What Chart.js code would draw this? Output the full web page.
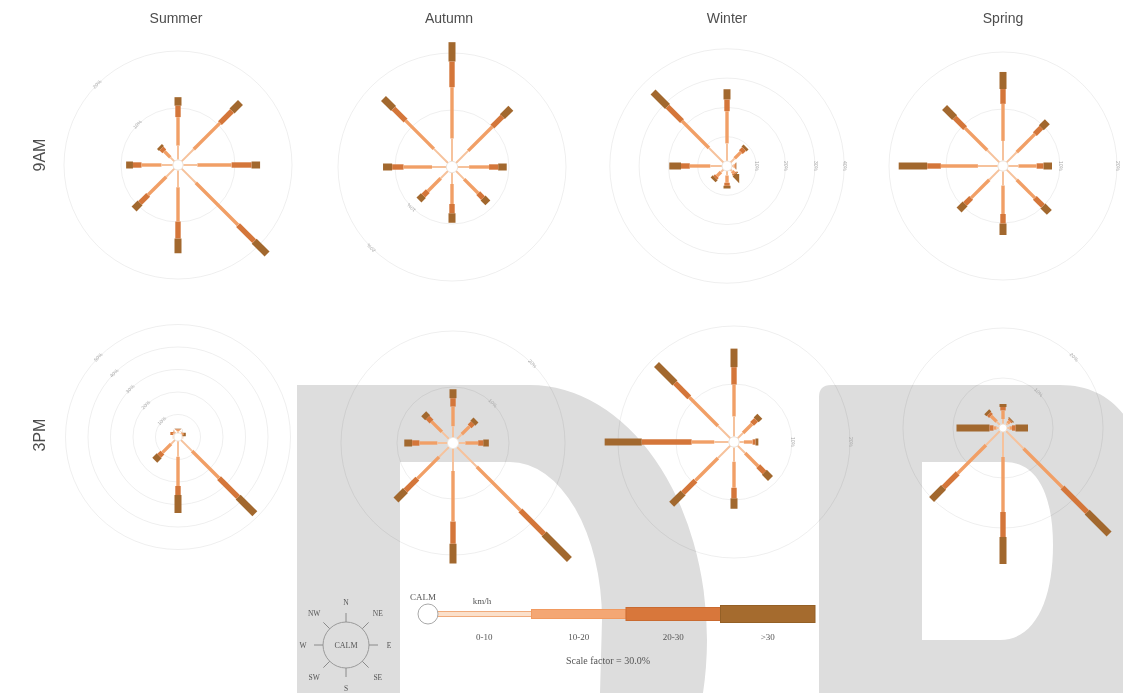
<!DOCTYPE html>
<html>
<head>
<meta charset="utf-8">
<title>Wind roses</title>
<script src="https://cdn.jsdelivr.net/npm/chart.js@4.4.1/dist/chart.umd.min.js"></script>
<style>
  html, body { margin: 0; padding: 0; background: #fff; }
  #page { position: relative; width: 1123px; height: 693px; overflow: hidden; background: #fff;
          font-family: "Liberation Sans", Arial, sans-serif; }
  #mark { position: absolute; left: 0; top: 0; }
  .rose { position: absolute; }
  .title { position: absolute; font-size: 14px; color: #4d4d4d; transform: translate(-50%, -50%); white-space: nowrap; }
  .rowlab { position: absolute; font-size: 16px; color: #4d4d4d; transform: translate(-50%, -50%) rotate(-90deg); white-space: nowrap; }
  #legend { position: absolute; left: 0; top: 0; }
</style>
</head>
<body>
<div id="page">
  <svg id="mark" width="1123" height="693">
    <path fill="#dddddd" fill-rule="evenodd"
      d="M297,385 H530 A177,255 0 0 1 707,640 A177,255 0 0 1 703,693 H297 Z
         M400,462 H510 A92,158 0 0 1 602,620 L600,693 H400 Z"/>
    <path fill="#dddddd" fill-rule="evenodd"
      d="M819,397 Q819,385 831,385 H1060 C1110,385 1140,420 1140,470 V693 H819 Z
         M922,462 H1005 C1040,462 1053,500 1053,545 C1053,600 1035,640 1000,640 H922 Z"/>
  </svg>
  <div id="roses"></div>
  <svg id="legend" width="1123" height="693"></svg>
</div>
<script>
// Wind direction sectors and speed classes (km/h)
const directions = ['N', 'NE', 'E', 'SE', 'S', 'SW', 'W', 'NW'];
const directionBearings = [0, 45, 90, 135, 180, 225, 270, 315];
const speedClasses = ['0-10', '10-20', '20-30', '>30'];
const seasons = ['Summer', 'Autumn', 'Winter', 'Spring'];
const times = ['9AM', '3PM'];

// Percentage of observations, one row per direction (N..NW), one column per speed class
const summer9am = [
  [2.5, 5.0, 2.0, 1.5], [3.0, 6.5, 3.0, 2.1], [2.5, 6.0, 3.5, 1.5], [3.5, 10.5, 4.0, 3.2],
  [3.0, 6.0, 3.0, 2.6], [2.0, 4.5, 2.0, 1.5], [2.0, 3.5, 1.5, 1.2], [1.0, 1.5, 0.7, 0.5]
];
const autumn9am = [
  [4.0, 9.0, 4.5, 3.4], [3.0, 6.0, 2.5, 2.1], [2.0, 3.5, 1.6, 1.5], [2.0, 3.5, 1.2, 1.2],
  [2.0, 3.5, 1.6, 1.7], [1.8, 3.2, 1.1, 1.1], [2.5, 5.0, 2.0, 1.6], [3.5, 7.0, 3.0, 2.5]
];
const winter9am = [
  [6.0, 11.0, 4.0, 3.5], [2.0, 3.0, 1.5, 1.0], [0.5, 0.5, 0.3, 0.2], [0.8, 1.0, 0.4, 0.3],
  [1.5, 2.5, 1.0, 1.0], [1.2, 2.0, 0.8, 1.0], [4.0, 7.0, 3.0, 4.0], [7.0, 13.0, 7.0, 7.0]
];
const spring9am = [
  [3.5, 6.5, 2.6, 3.0], [2.5, 4.5, 1.6, 1.5], [1.8, 3.2, 1.2, 1.5], [2.5, 4.5, 2.0, 1.6],
  [2.5, 5.0, 1.7, 2.0], [2.5, 4.5, 1.5, 1.5], [3.5, 6.5, 2.4, 5.0], [3.0, 5.5, 2.6, 2.5]
];
const summer3pm = [
  [0.8, 0.6, 0.3, 0.2], [0.4, 0.3, 0.1, 0.1], [0.3, 0.2, 0.0, 0.0], [7.0, 17.0, 12.0, 10.5],
  [7.0, 13.0, 4.0, 8.0], [2.5, 5.5, 2.0, 2.8], [0.3, 0.2, 0.0, 0.0], [0.7, 0.4, 0.2, 0.1]
];
const autumn3pm = [
  [2.0, 3.5, 1.5, 1.6], [1.2, 2.0, 0.8, 0.8], [1.2, 2.3, 0.9, 1.0], [5.0, 11.0, 6.0, 6.4],
  [4.0, 9.0, 4.0, 3.5], [2.5, 5.5, 3.0, 2.4], [1.8, 3.2, 1.3, 1.4], [1.8, 2.6, 1.0, 1.0]
];
const winter3pm = [
  [3.5, 5.5, 3.0, 3.2], [1.3, 2.2, 1.0, 0.9], [0.8, 1.5, 0.5, 0.5], [1.8, 3.2, 1.5, 1.5],
  [2.5, 4.5, 1.8, 1.8], [3.0, 5.5, 3.0, 2.8], [2.5, 3.9, 8.6, 6.4], [3.0, 7.0, 3.5, 4.5]
];
const spring3pm = [
  [1.0, 1.7, 0.7, 0.6], [0.5, 0.6, 0.3, 0.2], [0.5, 0.5, 0.7, 2.5], [5.0, 11.0, 7.0, 6.2],
  [5.0, 11.0, 5.0, 5.4], [4.0, 8.0, 4.0, 3.4], [0.5, 0.6, 0.8, 6.6], [1.0, 1.6, 0.6, 0.6]
];

// Calm percentage (radius of the centre circle), per season
const calm9am = [0.9, 1.0, 1.7, 0.9];
const calm3pm = [1.8, 1.0, 0.9, 0.8];

// Percentage rings drawn on each rose
const rings9am = [[10, 20], [10, 20], [10, 20, 30, 40], [10, 20]];
const rings3pm = [[10, 20, 30, 40, 50], [10, 20], [10, 20], [10, 20]];

// Legend values
const legendClasses = ['0-10', '10-20', '20-30', '>30'];
const scaleFactorText = 'Scale factor = 30.0%';

// ---- layout and styling ----
const classColors = ['#f6c29c', '#f19f66', '#d4763a', '#a2682e'];
const classWidths = [2.0, 3.4, 5.4, 7.0];
const roseLayout = {
  '9AM': [
    { cx: 178, cy: 165, ppp: 5.7,  labelAt: 315 },
    { cx: 452, cy: 167, ppp: 5.7,  labelAt: 225 },
    { cx: 727, cy: 166, ppp: 2.93, labelAt: 90 },
    { cx: 1003, cy: 166, ppp: 5.7, labelAt: 90 }
  ],
  '3PM': [
    { cx: 178, cy: 437, ppp: 2.25, labelAt: 315 },
    { cx: 453, cy: 443, ppp: 5.6,  labelAt: 45 },
    { cx: 734, cy: 442, ppp: 5.8,  labelAt: 90 },
    { cx: 1003, cy: 428, ppp: 5.0, labelAt: 45 }
  ]
};
const CANVAS = 360;

const roseGrid = {
  id: 'roseGrid',
  beforeDatasetsDraw(chart, args, opts) {
    const { ctx, scales: { x, y } } = chart;
    const cx = x.getPixelForValue(0), cy = y.getPixelForValue(0);
    ctx.save();
    ctx.strokeStyle = 'rgba(0,0,0,0.065)';
    ctx.lineWidth = 1;
    opts.rings.forEach(v => {
      const r = x.getPixelForValue(v) - cx;
      ctx.beginPath();
      ctx.arc(cx, cy, r, 0, Math.PI * 2);
      ctx.stroke();
    });
    const a = opts.labelAt * Math.PI / 180;
    ctx.fillStyle = '#a8a8a8';
    ctx.font = '5px "Liberation Sans", Arial, sans-serif';
    ctx.textAlign = 'center';
    ctx.textBaseline = 'middle';
    opts.rings.forEach(v => {
      const r = x.getPixelForValue(v) - cx;
      ctx.save();
      ctx.translate(cx + r * Math.sin(a), cy - r * Math.cos(a));
      ctx.rotate(a);
      ctx.fillText(v + '%', 0, 0);
      ctx.restore();
    });
    ctx.restore();
  },
  afterDatasetsDraw(chart, args, opts) {
    const { ctx, scales: { x, y } } = chart;
    const cx = x.getPixelForValue(0), cy = y.getPixelForValue(0);
    const r = x.getPixelForValue(opts.calm) - cx;
    ctx.save();
    ctx.beginPath();
    ctx.arc(cx, cy, r, 0, Math.PI * 2);
    ctx.fillStyle = '#ffffff';
    ctx.fill();
    ctx.strokeStyle = '#ebe2da';
    ctx.lineWidth = 1;
    ctx.stroke();
    ctx.restore();
  }
};

function roseDatasets(rows, calmPct) {
  const sets = [];
  rows.forEach((row, d) => {
    const a = directionBearings[d] * Math.PI / 180;
    let r0 = calmPct;
    row.forEach((v, k) => {
      const r1 = r0 + v;
      if (v > 0) {
        sets.push({
          label: directions[d] + ' ' + speedClasses[k],
          data: [
            { x: r0 * Math.sin(a), y: r0 * Math.cos(a) },
            { x: r1 * Math.sin(a), y: r1 * Math.cos(a) }
          ],
          showLine: true,
          borderColor: classColors[k],
          borderWidth: classWidths[k],
          borderCapStyle: 'butt',
          pointRadius: 0,
          clip: false
        });
      }
      r0 = r1;
    });
  });
  return sets;
}

function drawRose(rows, calmPct, rings, lay) {
  const holder = document.getElementById('roses');
  const cv = document.createElement('canvas');
  cv.className = 'rose';
  cv.width = CANVAS; cv.height = CANVAS;
  cv.style.width = CANVAS + 'px'; cv.style.height = CANVAS + 'px';
  cv.style.left = (lay.cx - CANVAS / 2) + 'px';
  cv.style.top = (lay.cy - CANVAS / 2) + 'px';
  holder.appendChild(cv);
  const ext = (CANVAS / 2) / lay.ppp;
  new Chart(cv, {
    type: 'scatter',
    data: { datasets: roseDatasets(rows, calmPct) },
    options: {
      responsive: false,
      animation: false,
      events: [],
      layout: { padding: 0 },
      scales: {
        x: { type: 'linear', min: -ext, max: ext, display: false },
        y: { type: 'linear', min: -ext, max: ext, display: false }
      },
      plugins: {
        legend: { display: false },
        tooltip: { enabled: false },
        roseGrid: { rings: rings, labelAt: lay.labelAt, calm: calmPct }
      }
    },
    plugins: [roseGrid]
  });
}

const data9am = [summer9am, autumn9am, winter9am, spring9am];
const data3pm = [summer3pm, autumn3pm, winter3pm, spring3pm];
seasons.forEach((s, i) => {
  drawRose(data9am[i], calm9am[i], rings9am[i], roseLayout['9AM'][i]);
  drawRose(data3pm[i], calm3pm[i], rings3pm[i], roseLayout['3PM'][i]);
});

// Column and row headings
const page = document.getElementById('page');
const titleX = [176, 449, 727, 1003];
seasons.forEach((s, i) => {
  const d = document.createElement('div');
  d.className = 'title';
  d.textContent = s;
  d.style.left = titleX[i] + 'px';
  d.style.top = '18px';
  page.appendChild(d);
});
const rowY = [155, 435];
times.forEach((t, i) => {
  const d = document.createElement('div');
  d.className = 'rowlab';
  d.textContent = t;
  d.style.left = '40px';
  d.style.top = rowY[i] + 'px';
  page.appendChild(d);
});

// Legend: compass key and speed-class bar
const NS = 'http://www.w3.org/2000/svg';
const lg = document.getElementById('legend');
function el(tag, attrs, text) {
  const e = document.createElementNS(NS, tag);
  for (const k in attrs) e.setAttribute(k, attrs[k]);
  if (text !== undefined) e.textContent = text;
  lg.appendChild(e);
  return e;
}
const serif = '"Liberation Serif", "Times New Roman", serif';
const kx = 346, ky = 645, kr = 23;
el('circle', { cx: kx, cy: ky, r: kr, fill: 'none', stroke: '#9a9a9a', 'stroke-width': 1 });
el('text', { x: kx, y: ky + 3, 'text-anchor': 'middle', 'font-family': serif, 'font-size': 8, fill: '#555' }, 'CALM');
directions.forEach((d, i) => {
  const a = directionBearings[i] * Math.PI / 180;
  const sx = Math.sin(a), sy = -Math.cos(a);
  el('line', { x1: kx + kr * sx, y1: ky + kr * sy, x2: kx + (kr + 9) * sx, y2: ky + (kr + 9) * sy,
               stroke: '#8a8a8a', 'stroke-width': 1 });
  const lr = (i % 2 === 0) ? kr + 20 : kr + 22;
  el('text', { x: kx + lr * sx, y: ky + lr * sy + 3, 'text-anchor': 'middle', 'font-family': serif,
               'font-size': 7.5, fill: '#555' }, d);
});

const barY = 614, barX0 = 437, segW = 94.5;
const legendWidths = [5, 9, 13, 17];
const legendFill = ['#fbe0cb', '#f4a774', '#d8773b', '#a56b2e'];
const legendStroke = ['#f0ab7c', '#f19a60', '#c96a30', '#946026'];
legendClasses.forEach((c, k) => {
  const h = legendWidths[k];
  el('rect', { x: barX0 + k * segW, y: barY - h / 2, width: segW, height: h,
               fill: legendFill[k], stroke: legendStroke[k], 'stroke-width': 1 });
  el('text', { x: barX0 + k * segW + segW / 2, y: 640, 'text-anchor': 'middle', 'font-family': serif,
               'font-size': 9, fill: '#555' }, c);
});
el('circle', { cx: 428, cy: barY, r: 10, fill: '#fff', stroke: '#a8a8a8', 'stroke-width': 1 });
el('text', { x: 423, y: 600, 'text-anchor': 'middle', 'font-family': serif, 'font-size': 9, fill: '#555' }, 'CALM');
el('text', { x: 482, y: 604, 'text-anchor': 'middle', 'font-family': serif, 'font-size': 9, fill: '#555' }, 'km/h');
el('text', { x: 608, y: 664, 'text-anchor': 'middle', 'font-family': serif, 'font-size': 10, fill: '#555' }, scaleFactorText);
</script>
</body>
</html>
